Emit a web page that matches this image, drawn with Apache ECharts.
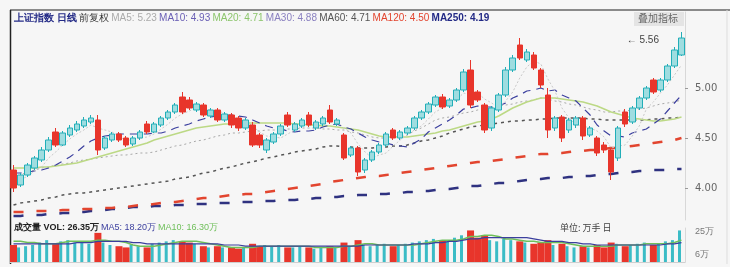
<!DOCTYPE html>
<html><head><meta charset="utf-8">
<script src="https://cdn.jsdelivr.net/npm/echarts@6/dist/echarts.min.js"></script>
<style>html,body{margin:0;padding:0;background:#f6f6f6;}#c{width:730px;height:267px;}</style>
</head><body><div id="c"></div>
<script>
// ---- data ----
const opens  = [4.18,4.03,4.13,4.20,4.28,4.38,4.56,4.43,4.53,4.58,4.62,4.66,4.68,4.40,4.48,4.54,4.50,4.44,4.50,4.64,4.56,4.63,4.70,4.76,4.91,4.88,4.78,4.83,4.72,4.78,4.68,4.73,4.70,4.60,4.63,4.53,4.38,4.46,4.54,4.73,4.58,4.62,4.73,4.60,4.64,4.78,4.64,4.53,4.33,4.40,4.18,4.28,4.36,4.43,4.58,4.50,4.55,4.60,4.70,4.76,4.83,4.91,4.82,4.88,4.98,5.18,4.96,4.83,4.60,4.78,4.93,5.18,5.43,5.28,5.33,5.18,4.93,4.60,4.71,4.58,4.63,4.70,4.53,4.50,4.43,4.38,4.30,4.76,4.66,4.80,4.90,5.08,4.98,5.08,5.22,5.33];
const closes = [4.00,4.13,4.23,4.30,4.38,4.48,4.43,4.55,4.60,4.64,4.68,4.70,4.38,4.50,4.54,4.48,4.43,4.50,4.56,4.56,4.64,4.70,4.76,4.83,4.76,4.80,4.84,4.73,4.78,4.68,4.74,4.63,4.60,4.68,4.43,4.43,4.48,4.54,4.62,4.63,4.64,4.68,4.63,4.66,4.70,4.66,4.68,4.30,4.40,4.16,4.28,4.36,4.43,4.54,4.50,4.56,4.60,4.70,4.76,4.84,4.91,4.81,4.88,4.98,5.16,4.83,4.88,4.58,4.80,4.93,5.18,5.30,5.30,5.36,5.20,5.03,4.58,4.70,4.50,4.68,4.70,4.52,4.60,4.35,4.38,4.16,4.60,4.64,4.80,4.90,5.00,4.96,5.08,5.22,5.38,5.50];
const lows   = [3.96,4.01,4.11,4.18,4.26,4.36,4.41,4.42,4.51,4.56,4.60,4.64,4.33,4.38,4.46,4.46,4.41,4.42,4.48,4.54,4.55,4.61,4.68,4.74,4.74,4.78,4.76,4.71,4.70,4.66,4.66,4.60,4.57,4.58,4.41,4.40,4.35,4.44,4.52,4.61,4.56,4.60,4.61,4.58,4.62,4.64,4.62,4.28,4.31,4.12,4.15,4.26,4.34,4.41,4.48,4.48,4.53,4.58,4.68,4.74,4.81,4.79,4.80,4.86,4.96,4.80,4.86,4.55,4.57,4.76,4.91,5.16,5.28,5.26,5.18,5.00,4.50,4.57,4.46,4.55,4.60,4.48,4.51,4.32,4.35,4.08,4.27,4.61,4.64,4.78,4.88,4.94,4.96,5.06,5.20,5.32];
const highs  = [4.23,4.15,4.25,4.32,4.41,4.51,4.60,4.57,4.63,4.67,4.71,4.73,4.73,4.52,4.56,4.56,4.52,4.52,4.58,4.67,4.66,4.72,4.78,4.85,4.96,4.91,4.86,4.85,4.80,4.80,4.76,4.75,4.72,4.70,4.66,4.55,4.50,4.56,4.64,4.76,4.66,4.70,4.76,4.68,4.72,4.83,4.70,4.55,4.42,4.42,4.30,4.38,4.45,4.56,4.60,4.58,4.62,4.72,4.78,4.86,4.93,4.94,4.90,5.00,5.19,5.28,4.98,4.85,4.82,4.95,5.21,5.33,5.50,5.39,5.36,5.20,5.00,4.72,4.73,4.70,4.72,4.72,4.62,4.52,4.46,4.40,4.62,4.79,4.82,4.92,5.02,5.10,5.10,5.24,5.41,5.56];
const ma5    = [4.05,4.08,4.12,4.17,4.21,4.30,4.36,4.43,4.49,4.54,4.58,4.63,4.60,4.58,4.56,4.52,4.47,4.49,4.50,4.51,4.54,4.59,4.64,4.70,4.74,4.77,4.80,4.79,4.78,4.77,4.75,4.71,4.69,4.67,4.62,4.56,4.52,4.51,4.50,4.54,4.58,4.62,4.64,4.65,4.66,4.67,4.67,4.60,4.55,4.44,4.36,4.30,4.33,4.35,4.42,4.48,4.53,4.58,4.62,4.69,4.76,4.80,4.84,4.88,4.95,4.93,4.95,4.89,4.85,4.80,4.87,4.96,5.10,5.21,5.27,5.24,5.09,4.97,4.80,4.70,4.63,4.62,4.60,4.57,4.51,4.40,4.42,4.43,4.52,4.62,4.79,4.86,4.95,5.03,5.13,5.23];
const ma10   = [4.15,4.15,4.16,4.17,4.18,4.20,4.23,4.27,4.31,4.36,4.42,4.47,4.50,4.52,4.53,4.54,4.54,4.54,4.54,4.54,4.55,4.55,4.57,4.60,4.62,4.64,4.67,4.69,4.71,4.72,4.73,4.73,4.72,4.71,4.68,4.65,4.62,4.60,4.59,4.57,4.56,4.57,4.57,4.58,4.61,4.63,4.64,4.61,4.59,4.55,4.51,4.48,4.46,4.45,4.43,4.42,4.41,4.45,4.49,4.56,4.60,4.64,4.68,4.73,4.79,4.80,4.82,4.81,4.81,4.82,4.85,4.90,4.93,4.97,4.98,5.00,4.97,4.98,4.93,4.90,4.87,4.80,4.73,4.63,4.57,4.52,4.52,4.51,4.55,4.57,4.59,4.64,4.69,4.77,4.85,4.93];
const ma20   = [4.20,4.20,4.20,4.20,4.21,4.21,4.22,4.23,4.24,4.25,4.27,4.29,4.31,4.33,4.35,4.37,4.39,4.41,4.43,4.45,4.48,4.50,4.52,4.54,4.56,4.58,4.60,4.61,4.62,4.63,4.64,4.64,4.65,4.65,4.65,4.65,4.65,4.65,4.65,4.65,4.64,4.64,4.63,4.63,4.62,4.62,4.61,4.60,4.59,4.58,4.56,4.54,4.52,4.51,4.51,4.51,4.51,4.52,4.53,4.54,4.55,4.57,4.58,4.60,4.62,4.64,4.66,4.67,4.69,4.72,4.76,4.80,4.83,4.86,4.88,4.90,4.90,4.90,4.89,4.88,4.87,4.86,4.84,4.82,4.79,4.76,4.74,4.72,4.70,4.69,4.68,4.67,4.67,4.68,4.69,4.71];
const ma30   = [4.10,4.13,4.16,4.18,4.20,4.21,4.23,4.24,4.25,4.27,4.28,4.29,4.30,4.31,4.32,4.33,4.33,4.34,4.35,4.35,4.36,4.38,4.40,4.42,4.43,4.45,4.47,4.48,4.50,4.52,4.53,4.55,4.55,4.56,4.57,4.57,4.58,4.58,4.58,4.59,4.59,4.60,4.60,4.60,4.59,4.59,4.58,4.58,4.56,4.55,4.53,4.51,4.50,4.50,4.51,4.52,4.53,4.57,4.60,4.64,4.68,4.70,4.71,4.73,4.75,4.76,4.78,4.79,4.80,4.82,4.83,4.84,4.86,4.87,4.88,4.90,4.89,4.87,4.86,4.84,4.83,4.81,4.79,4.78,4.76,4.76,4.77,4.77,4.78,4.79,4.80,4.82,4.84,4.85,4.86,4.88];
const ma60   = [3.83,3.85,3.86,3.87,3.88,3.90,3.91,3.93,3.94,3.95,3.95,3.96,3.97,3.98,3.99,4.00,4.01,4.02,4.03,4.04,4.05,4.06,4.07,4.09,4.10,4.11,4.13,4.15,4.16,4.18,4.20,4.21,4.23,4.25,4.26,4.28,4.30,4.31,4.33,4.34,4.36,4.37,4.38,4.39,4.41,4.42,4.42,4.41,4.41,4.40,4.40,4.40,4.41,4.41,4.42,4.42,4.43,4.45,4.47,4.48,4.50,4.52,4.55,4.57,4.59,4.61,4.62,4.63,4.64,4.65,4.66,4.67,4.67,4.68,4.68,4.69,4.69,4.70,4.70,4.70,4.70,4.70,4.69,4.69,4.68,4.68,4.68,4.68,4.68,4.68,4.68,4.69,4.69,4.70,4.70,4.71];
const ma120  = [3.76,3.76,3.76,3.77,3.77,3.77,3.77,3.78,3.78,3.78,3.79,3.79,3.79,3.80,3.80,3.81,3.81,3.82,3.83,3.83,3.84,3.85,3.86,3.86,3.87,3.88,3.89,3.90,3.90,3.91,3.92,3.93,3.93,3.94,3.94,3.95,3.96,3.97,3.98,3.99,4.00,4.01,4.02,4.03,4.04,4.06,4.07,4.08,4.09,4.10,4.11,4.12,4.12,4.13,4.14,4.15,4.16,4.17,4.18,4.19,4.20,4.21,4.22,4.23,4.24,4.25,4.26,4.26,4.27,4.28,4.29,4.30,4.31,4.32,4.33,4.34,4.34,4.35,4.35,4.36,4.37,4.37,4.38,4.38,4.39,4.40,4.40,4.41,4.42,4.43,4.44,4.45,4.46,4.47,4.48,4.50];
const ma250  = [3.72,3.72,3.73,3.73,3.73,3.74,3.74,3.75,3.75,3.76,3.76,3.77,3.77,3.78,3.79,3.79,3.80,3.81,3.81,3.81,3.82,3.82,3.82,3.83,3.83,3.83,3.84,3.84,3.84,3.85,3.85,3.85,3.86,3.86,3.86,3.87,3.87,3.87,3.88,3.88,3.88,3.89,3.89,3.90,3.90,3.91,3.91,3.92,3.92,3.93,3.93,3.93,3.94,3.94,3.95,3.95,3.96,3.96,3.97,3.97,3.98,3.99,3.99,4.00,4.01,4.02,4.02,4.03,4.04,4.05,4.05,4.06,4.07,4.08,4.09,4.09,4.10,4.10,4.10,4.11,4.11,4.12,4.12,4.13,4.14,4.14,4.15,4.16,4.16,4.17,4.17,4.18,4.18,4.18,4.19,4.19];
const volumes = [14,12,13,14,16,18,15,17,18,16,17,15,24,16,14,13,12,14,13,12,15,16,17,18,17,16,15,13,12,13,12,12,11,12,15,13,14,13,14,12,12,13,12,11,12,13,12,16,13,18,14,13,14,15,13,14,15,16,17,18,19,18,17,20,22,26,20,22,18,17,19,18,17,16,15,16,18,14,15,13,12,13,12,14,12,16,15,13,14,15,16,14,15,17,18,26];
const volMa5  = [17,17,16,16,15,15,15,16,17,17,17,17,18,18,17,17,16,14,13,13,13,14,15,16,17,17,17,16,15,14,13,12,12,12,12,13,13,13,13,13,13,13,13,12,12,12,12,13,13,14,15,15,14,14,14,14,14,14,15,16,17,18,18,18,19,21,21,22,22,21,19,19,18,17,17,16,16,16,16,15,14,13,13,13,13,13,14,14,14,14,15,15,15,15,16,18];
const volMa10 = [15,15,15,15,15,15,15,15,15,16,16,16,17,17,17,17,17,16,16,15,15,15,15,15,15,15,15,15,15,15,14,14,14,13,13,13,13,13,13,13,13,13,13,13,13,13,13,13,13,13,14,14,14,14,14,14,14,15,15,15,16,16,17,17,18,19,19,20,20,20,20,20,20,20,19,18,17,17,17,16,16,15,15,14,14,14,14,14,14,14,14,14,14,15,15,16];
const priceTicks = [4.0, 4.5, 5.0];
const volTicks = [6, 25];
const categories = closes.map((_, i) => 'D' + (i + 1));

// ---- chart ----
const RED = '#e8352b', CYAN = '#22aeb8';
const kData = opens.map((o, i) => [o, closes[i], lows[i], highs[i]]);
const volUp = volumes.map((v, i) => closes[i] >= opens[i] ? v : null);
const volDown = volumes.map((v, i) => closes[i] < opens[i] ? v : null);

const chart = echarts.init(document.getElementById('c'), null, {renderer: 'canvas'});
const lineS = (name, data, color, width, type, z) => ({
  name, type: 'line', data, xAxisIndex: 0, yAxisIndex: 0, symbol: 'none', smooth: false,
  lineStyle: {color, width, type}, z: z || 2, silent: true, animation: false
});
chart.setOption({
  animation: false,
  backgroundColor: '#f6f6f6',
  grid: [
    {left: 10, right: 45, top: 12, height: 208, show: false},
    {left: 10, right: 45, top: 228, height: 34, show: false}
  ],
  xAxis: [
    {type: 'category', data: categories, gridIndex: 0, boundaryGap: true,
     axisLine: {show: false}, axisTick: {show: false}, axisLabel: {show: false}, splitLine: {show: false}},
    {type: 'category', data: categories, gridIndex: 1, boundaryGap: true,
     axisLine: {show: true, lineStyle: {color: '#cfcfcf'}}, axisTick: {show: false}, axisLabel: {show: false}}
  ],
  yAxis: [
    {type: 'value', gridIndex: 0, position: 'right', min: 3.68, max: 5.76, scale: true,
     axisLine: {show: true, lineStyle: {color: '#d8d8d8'}},
     axisTick: {show: true, customValues: priceTicks, length: 3, lineStyle: {color: '#999'}},
     axisLabel: {customValues: priceTicks, formatter: v => v.toFixed(2), color: '#666', fontSize: 10, margin: 10, fontFamily: 'DejaVu Sans'},
     splitLine: {show: false}},
    {type: 'value', gridIndex: 1, position: 'right', min: 0, max: 28,
     axisLine: {show: true, lineStyle: {color: '#d8d8d8'}},
     axisTick: {show: false},
     axisLabel: {customValues: volTicks, formatter: v => v + '万', color: '#777', fontSize: 9, margin: 10},
     splitLine: {show: false}}
  ],
  series: [
    lineS('MA250', ma250, '#2f3280', 2.5, [10, 13], 1),
    lineS('MA120', ma120, '#e2452f', 2.5, [10, 13], 1),
    lineS('MA60', ma60, '#555555', 1.5, [3, 4], 1),
    lineS('MA30', ma30, '#a8a8a8', 1, [2, 3], 1),
    lineS('MA20', ma20, '#bcd985', 1.5, 'solid', 1),
    lineS('MA10', ma10, '#3b3f9e', 1.2, [8, 6], 3),
    lineS('MA5', ma5, '#c9c9c9', 1, [2, 2], 3),
    {name: 'K', type: 'candlestick', data: kData, xAxisIndex: 0, yAxisIndex: 0, barWidth: 6, z: 4,
     itemStyle: {color: '#9fdde0', color0: RED, borderColor: CYAN, borderColor0: RED, borderWidth: 1},
     markPoint: {symbol: 'circle', symbolSize: 1, itemStyle: {color: 'transparent'},
       data: [{type: 'max', valueDim: 'highest'}],
       label: {position: 'left', distance: 22, color: '#444', fontSize: 10, offset: [0, 8],
               formatter: p => '\u2190 ' + p.value.toFixed(2)}}},
    {name: 'VOLUP', type: 'bar', data: volUp, xAxisIndex: 1, yAxisIndex: 1, barWidth: 3, barGap: '-100%',
     itemStyle: {color: '#3bbcc6'}},
    {name: 'VOLDN', type: 'bar', data: volDown, xAxisIndex: 1, yAxisIndex: 1, barWidth: 7, barGap: '-100%',
     itemStyle: {color: RED}},
    {name: 'VMA5', type: 'line', data: volMa5, xAxisIndex: 1, yAxisIndex: 1, symbol: 'none',
     lineStyle: {color: '#6fbf5a', width: 1.5}, z: 5},
    {name: 'VMA10', type: 'line', data: volMa10, xAxisIndex: 1, yAxisIndex: 1, symbol: 'none',
     lineStyle: {color: '#3b3f9e', width: 1.2}, z: 5}
  ],
  graphic: [
    {type: 'line', shape: {x1: 10, y1: 10, x2: 730, y2: 10}, style: {stroke: '#8a8a8a', lineWidth: 2}, silent: true},
    {type: 'line', shape: {x1: 10.5, y1: 10, x2: 10.5, y2: 264}, style: {stroke: '#222', lineWidth: 1.5}, silent: true},
    {type: 'line', shape: {x1: 727, y1: 10, x2: 727, y2: 264}, style: {stroke: '#dddddd', lineWidth: 1}, silent: true},
    {type: 'text', left: 14, top: 13, silent: true, style: {
      text: '{a|上证指数 日线} {b|前复权} {c|MA5: 5.23} {d|MA10: 4.93} {e|MA20: 4.71} {f|MA30: 4.88} {g|MA60: 4.71} {h|MA120: 4.50} {i|MA250: 4.19}',
      font: '10px "Noto Sans CJK SC"',
      rich: {
        a: {fill: '#232a86', fontWeight: 'bold', fontSize: 10},
        b: {fill: '#333', fontSize: 10},
        c: {fill: '#aaaaaa', fontSize: 10},
        d: {fill: '#6a5fb5', fontSize: 10},
        e: {fill: '#8cc56c', fontSize: 10},
        f: {fill: '#8a80c0', fontSize: 10},
        g: {fill: '#555', fontSize: 10},
        h: {fill: '#e2452f', fontSize: 10},
        i: {fill: '#232a86', fontWeight: 'bold', fontSize: 10}
      }}},
    {type: 'rect', left: 634, top: 12, shape: {width: 50, height: 14}, style: {fill: '#e4e4e4'}, silent: true},
    {type: 'text', left: 638, top: 13, silent: true, style: {text: '叠加指标', fill: '#666', font: '10px "Noto Sans CJK SC"'}},
    {type: 'text', left: 14, top: 223, silent: true, style: {
      text: '{a|成交量 VOL: 26.35万} {b|MA5: 18.20万} {c|MA10: 16.30万}',
      font: '9px "Noto Sans CJK SC"',
      rich: {a: {fill: '#222', fontWeight: 'bold', fontSize: 9}, b: {fill: '#3b3f9e', fontSize: 9}, c: {fill: '#6fbf5a', fontSize: 9}}}},
    {type: 'text', left: 560, top: 223, silent: true, style: {text: '单位: 万手 日', fill: '#444', font: '9px "Noto Sans CJK SC"'}}
  ]
});
</script>
</body></html>
